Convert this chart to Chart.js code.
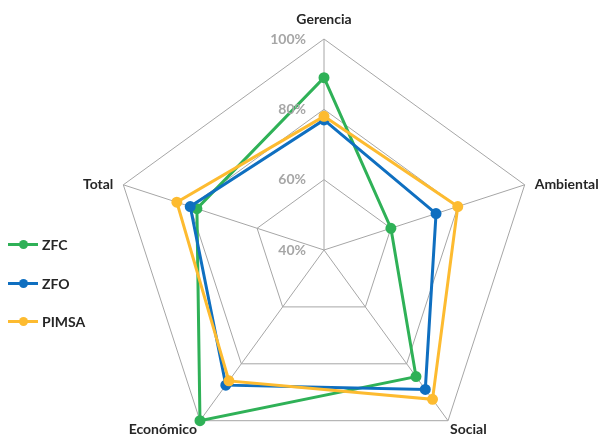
<!DOCTYPE html>
<html>
<head>
<meta charset="utf-8">
<script src="https://cdn.jsdelivr.net/npm/chart.js@4"></script>
<style>
  html, body { margin: 0; padding: 0; background: #fff; }
  #wrap { position: relative; width: 607px; height: 434px; }
  .leg { position: absolute; left: 8px; font: bold 14px Lato, sans-serif; color: #262626; display: flex; align-items: center; }
  .leg i { position: relative; display: inline-block; width: 30px; height: 3px; margin-right: 4px; }
  .leg i b { position: absolute; left: 11px; top: -3px; width: 9px; height: 9px; border-radius: 50%; background: inherit; }
</style>
</head>
<body>
<div id="wrap">
  <canvas id="radar" width="607" height="434"></canvas>
  <div class="leg" style="top:236px"><i style="background:#2fb157"><b></b></i>ZFC</div>
  <div class="leg" style="top:275px"><i style="background:#0f6fc0"><b></b></i>ZFO</div>
  <div class="leg" style="top:313px"><i style="background:#fdbb30"><b></b></i>PIMSA</div>
</div>
<script>
const labels = ['Gerencia', 'Ambiental', 'Social', 'Económico', 'Total'];
const zfc = [89, 60, 84.5, 100, 78];
const zfo = [77, 73.5, 89, 87.5, 80];
const pimsa = [78, 80, 92.5, 86, 84];
const tickValues = [40, 60, 80, 100];

// point labels + tick labels drawn next to the scale
const textPlugin = {
  id: 'texts',
  afterDraw(chart) {
    const s = chart.scales.r, ctx = chart.ctx;
    ctx.save();
    ctx.font = 'bold 14px Lato, sans-serif';
    ctx.fillStyle = '#a6a6a6';
    ctx.textAlign = 'right';
    ctx.textBaseline = 'middle';
    tickValues.forEach(v => {
      const d = s.getDistanceFromCenterForValue(v);
      ctx.fillText(v + '%', s.xCenter - 18, s.yCenter - d);
    });
    ctx.fillStyle = '#262626';
    const outer = s.getDistanceFromCenterForValue(100);
    const place = [
      { dx: 0, dy: -20, a: 'center' },
      { dx: 10, dy: 0, a: 'left' },
      { dx: 2, dy: 9, a: 'left' },
      { dx: -3, dy: 9, a: 'right' },
      { dx: -10, dy: 0, a: 'right' }
    ];
    labels.forEach((l, i) => {
      const p = s.getPointPosition(i, outer);
      ctx.textAlign = place[i].a;
      ctx.fillText(l, p.x + place[i].dx, p.y + place[i].dy);
    });
    ctx.restore();
  }
};

function ds(label, data, color, order) {
  return { label, data, order, borderColor: color, backgroundColor: color, pointBackgroundColor: color,
    borderWidth: 3, pointRadius: 4, pointHoverRadius: 4, fill: false };
}

new Chart(document.getElementById('radar'), {
  type: 'radar',
  data: {
    labels: labels,
    datasets: [
      ds('ZFC', zfc, '#2fb157', 2),
      ds('ZFO', zfo, '#0f6fc0', 1),
      ds('PIMSA', pimsa, '#fdbb30', 0)
    ]
  },
  options: {
    responsive: false,
    animation: false,
    plugins: { legend: { display: false }, tooltip: { enabled: false } },
    elements: { line: { tension: 0 } },
    scales: {
      r: {
        min: 40, max: 100,
        ticks: { stepSize: 20, display: false },
        pointLabels: { display: false },
        grid: { color: '#a6a6a6', lineWidth: 1 },
        angleLines: { color: '#a6a6a6', lineWidth: 1 },
        afterFit(s) { s.xCenter = 324; s.yCenter = 250; s.drawingArea = 211; }
      }
    }
  },
  plugins: [textPlugin]
});
</script>
</body>
</html>
